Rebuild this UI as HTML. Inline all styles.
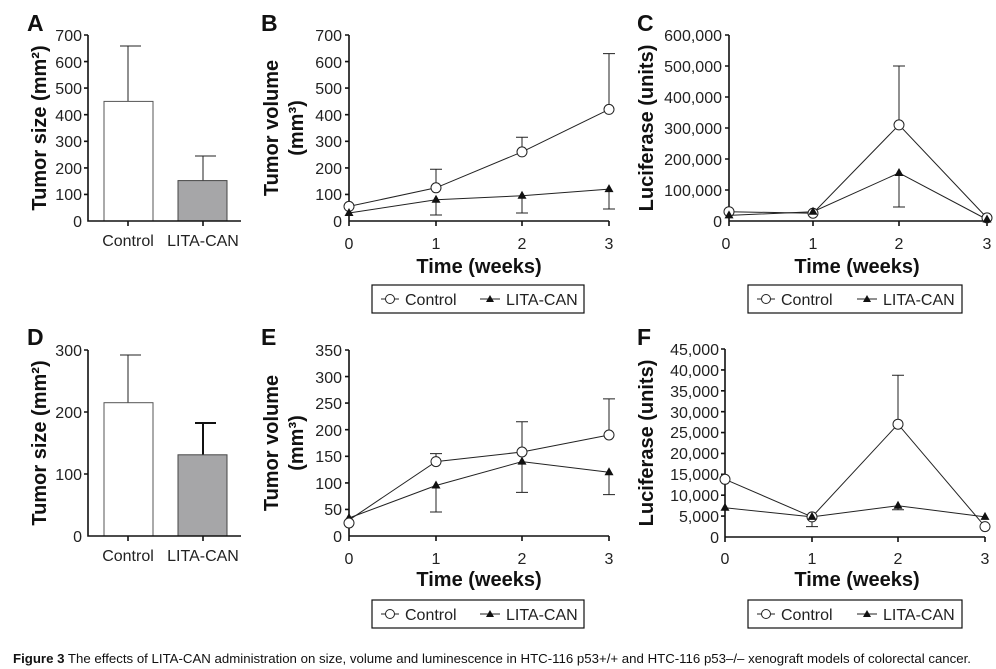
<!DOCTYPE html>
<html><head><meta charset="utf-8"><style>
body{margin:0;background:#fff}
svg{display:block;font-family:"Liberation Sans",Arial,sans-serif}
.t{font-size:16px;fill:#222}
.b{font-size:20px;font-weight:bold;fill:#111}
.L{font-size:23px;font-weight:bold;fill:#111}
.ax{stroke:#111;stroke-width:1.6;fill:none}
.ln{stroke:#222;stroke-width:1;fill:none}
.cap{font-size:12.6px;fill:#111;font-family:"Liberation Sans",sans-serif}
</style></head><body>
<svg width="996" height="669" viewBox="0 0 996 669">
<!-- Panel A -->
<text class="L" x="27" y="31">A</text>
<text class="b" transform="translate(46,128) rotate(-90)" text-anchor="middle">Tumor size (mm²)</text>
<g class="t" text-anchor="end">
<text x="82" y="227">0</text><text x="82" y="200">100</text><text x="82" y="174">200</text><text x="82" y="147">300</text><text x="82" y="121">400</text><text x="82" y="94">500</text><text x="82" y="68">600</text><text x="82" y="41">700</text></g>
<path class="ln" d="M128 101V46M120 46H141M203 181V156M195 156H216"/>
<rect x="104" y="101.4" width="49" height="119.6" fill="#fff" stroke="#555"/>
<rect x="178" y="180.6" width="49" height="40.4" fill="#a6a6a8" stroke="#444"/>
<path class="ax" d="M88 35V221H241M84 35H88M84 61.6H88M84 88.1H88M84 114.7H88M84 141.3H88M84 167.9H88M84 194.4H88M128 221V226M203 221V226"/>
<text class="t" x="128" y="246" text-anchor="middle">Control</text><text class="t" x="203" y="246" text-anchor="middle">LITA-CAN</text>

<!-- Panel B -->
<text class="L" x="261" y="31">B</text>
<text class="b" transform="translate(278,128) rotate(-90)" text-anchor="middle">Tumor volume</text>
<text class="b" transform="translate(303,128) rotate(-90)" text-anchor="middle">(mm³)</text>
<g class="t" text-anchor="end">
<text x="342" y="227">0</text><text x="342" y="200">100</text><text x="342" y="174">200</text><text x="342" y="147">300</text><text x="342" y="121">400</text><text x="342" y="94">500</text><text x="342" y="68">600</text><text x="342" y="41">700</text></g>
<path class="ax" d="M349 35V221H609M345 35H349M345 61.6H349M345 88.1H349M345 114.7H349M345 141.3H349M345 167.9H349M345 194.4H349M349 221V226M436 221V226M522 221V226M609 221V226"/>
<g class="t" text-anchor="middle"><text x="349" y="249">0</text><text x="436" y="249">1</text><text x="522" y="249">2</text><text x="609" y="249">3</text></g>
<text class="b" x="479" y="273" text-anchor="middle">Time (weeks)</text>
<path class="ln" d="M436 187.8V169.2M430 169.2H442M522 151.9V137.3M516 137.3H528M609 109.4V53.6M603 53.6H615M349 213V214.4M436 199.7V215M430 215H442M522 195.8V213M516 213H528M609 189.1V209M603 209H615"/>
<polyline class="ln" points="349,206.4 436,187.8 522,151.9 609,109.4"/>
<polyline class="ln" points="349,213 436,199.7 522,195.8 609,189.1"/>
<g fill="#fff" stroke="#222"><circle cx="349" cy="206.4" r="5"/><circle cx="436" cy="187.8" r="5"/><circle cx="522" cy="151.9" r="5"/><circle cx="609" cy="109.4" r="5"/></g>
<g fill="#111"><path d="M349 208l-4.5 8h9z"/><path d="M436 194.7l-4.5 8h9z"/><path d="M522 190.8l-4.5 8h9z"/><path d="M609 184.1l-4.5 8h9z"/></g>
<rect x="372" y="285" width="212" height="28" fill="none" stroke="#111" stroke-width="1.2"/>
<path class="ln" d="M381 299H399"/><circle cx="390" cy="299" r="4.5" fill="#fff" stroke="#222"/><text class="t" x="405" y="305">Control</text>
<path class="ln" d="M480 299H500"/><path d="M490 295l-4 7h8z" fill="#111"/><text class="t" x="506" y="305">LITA-CAN</text>

<!-- Panel C -->
<text class="L" x="637" y="31">C</text>
<text class="b" transform="translate(653,128) rotate(-90)" text-anchor="middle">Luciferase (units)</text>
<g class="t" text-anchor="end">
<text x="722" y="227">0</text><text x="722" y="196">100,000</text><text x="722" y="165">200,000</text><text x="722" y="134">300,000</text><text x="722" y="103">400,000</text><text x="722" y="72">500,000</text><text x="722" y="41">600,000</text></g>
<path class="ax" d="M729 35V221H987M725 35H729M725 66H729M725 97H729M725 128H729M725 159H729M725 190H729M729 221V226M813 221V226M899 221V226M987 221V226"/>
<g class="t" text-anchor="middle"><text x="726" y="249">0</text><text x="813" y="249">1</text><text x="899" y="249">2</text><text x="987" y="249">3</text></g>
<text class="b" x="857" y="273" text-anchor="middle">Time (weeks)</text>
<path class="ln" d="M899 124.9V66M893 66H905M899 172.95V207M893 207H905"/>
<polyline class="ln" points="729,211.7 813,213.25 899,124.9 987,217.9"/>
<polyline class="ln" points="729,215.4 813,211.7 899,172.95 987,219.5"/>
<g fill="#fff" stroke="#222"><circle cx="729" cy="211.7" r="5"/><circle cx="813" cy="213.25" r="5"/><circle cx="899" cy="124.9" r="5"/><circle cx="987" cy="217.9" r="5"/></g>
<g fill="#111"><path d="M729 210.4l-4.5 8h9z"/><path d="M813 206.7l-4.5 8h9z"/><path d="M899 168l-4.5 8h9z"/><path d="M987 214.5l-4.5 8h9z"/></g>
<rect x="748" y="285" width="214" height="28" fill="none" stroke="#111" stroke-width="1.2"/>
<path class="ln" d="M757 299H775"/><circle cx="766" cy="299" r="4.5" fill="#fff" stroke="#222"/><text class="t" x="781" y="305">Control</text>
<path class="ln" d="M857 299H877"/><path d="M867 295l-4 7h8z" fill="#111"/><text class="t" x="883" y="305">LITA-CAN</text>

<!-- Panel D -->
<text class="L" x="27" y="345">D</text>
<text class="b" transform="translate(46,443) rotate(-90)" text-anchor="middle">Tumor size (mm²)</text>
<g class="t" text-anchor="end">
<text x="82" y="542">0</text><text x="82" y="480">100</text><text x="82" y="418">200</text><text x="82" y="356">300</text></g>
<path class="ln" d="M128 403V355M120 355H141"/>
<path d="M203 455V423M195 423H216" stroke="#111" stroke-width="2" fill="none"/>
<rect x="104" y="402.7" width="49" height="133.3" fill="#fff" stroke="#555"/>
<rect x="178" y="454.8" width="49" height="81.2" fill="#a6a6a8" stroke="#444"/>
<path class="ax" d="M88 350V536H241M84 350H88M84 412H88M84 474H88M128 536V541M203 536V541"/>
<text class="t" x="128" y="561" text-anchor="middle">Control</text><text class="t" x="203" y="561" text-anchor="middle">LITA-CAN</text>

<!-- Panel E -->
<text class="L" x="261" y="345">E</text>
<text class="b" transform="translate(278,443) rotate(-90)" text-anchor="middle">Tumor volume</text>
<text class="b" transform="translate(303,443) rotate(-90)" text-anchor="middle">(mm³)</text>
<g class="t" text-anchor="end">
<text x="342" y="542">0</text><text x="342" y="515">50</text><text x="342" y="489">100</text><text x="342" y="462">150</text><text x="342" y="436">200</text><text x="342" y="409">250</text><text x="342" y="383">300</text><text x="342" y="356">350</text></g>
<path class="ax" d="M349 350V536H609M345 350H349M345 376.6H349M345 403.1H349M345 429.7H349M345 456.3H349M345 482.9H349M345 509.4H349M349 536V541M436 536V541M522 536V541M609 536V541"/>
<g class="t" text-anchor="middle"><text x="349" y="564">0</text><text x="436" y="564">1</text><text x="522" y="564">2</text><text x="609" y="564">3</text></g>
<text class="b" x="479" y="586" text-anchor="middle">Time (weeks)</text>
<path class="ln" d="M436 461.6V453.6M430 453.6H442M522 452V421.7M516 421.7H528M609 435V398.9M603 398.9H615M436 485.5V512M430 512H442M522 461.6V492.4M516 492.4H528M609 472.2V494.6M603 494.6H615"/>
<polyline class="ln" points="349,520.1 436,461.6 522,452 609,435"/>
<polyline class="ln" points="349,518 436,485.5 522,461.6 609,472.2"/>
<g fill="#111"><path d="M349 513l-4.5 8h9z"/><path d="M436 480.5l-4.5 8h9z"/><path d="M522 456.6l-4.5 8h9z"/><path d="M609 467.2l-4.5 8h9z"/></g>
<g fill="#fff" stroke="#222"><circle cx="349" cy="523" r="5"/><circle cx="436" cy="461.6" r="5"/><circle cx="522" cy="452" r="5"/><circle cx="609" cy="435" r="5"/></g>
<rect x="372" y="600" width="212" height="28" fill="none" stroke="#111" stroke-width="1.2"/>
<path class="ln" d="M381 614H399"/><circle cx="390" cy="614" r="4.5" fill="#fff" stroke="#222"/><text class="t" x="405" y="620">Control</text>
<path class="ln" d="M480 614H500"/><path d="M490 610l-4 7h8z" fill="#111"/><text class="t" x="506" y="620">LITA-CAN</text>

<!-- Panel F -->
<text class="L" x="637" y="345">F</text>
<text class="b" transform="translate(653,443) rotate(-90)" text-anchor="middle">Luciferase (units)</text>
<g class="t" text-anchor="end">
<text x="719" y="543">0</text><text x="719" y="522">5,000</text><text x="719" y="501">10,000</text><text x="719" y="480">15,000</text><text x="719" y="459">20,000</text><text x="719" y="438">25,000</text><text x="719" y="418">30,000</text><text x="719" y="397">35,000</text><text x="719" y="376">40,000</text><text x="719" y="355">45,000</text></g>
<path class="ax" d="M725 349V537H985M721 349H725M721 369.9H725M721 390.8H725M721 411.7H725M721 432.6H725M721 453.4H725M721 474.3H725M721 495.2H725M721 516.1H725M725 537V542M812 537V542M898 537V542M985 537V542"/>
<g class="t" text-anchor="middle"><text x="725" y="564">0</text><text x="812" y="564">1</text><text x="898" y="564">2</text><text x="985" y="564">3</text></g>
<text class="b" x="857" y="586" text-anchor="middle">Time (weeks)</text>
<path class="ln" d="M898 424.2V375.3M892 375.3H904M812 516.9V526.6M806 526.6H818M898 505.7V509.8M892 509.8H904"/>
<polyline class="ln" points="725,479.3 812,516.9 898,424.2 985,526.6"/>
<polyline class="ln" points="725,507.8 812,516.9 898,505.7 985,516.9"/>
<g fill="#fff" stroke="#222"><circle cx="725" cy="479.3" r="5"/><circle cx="812" cy="516.9" r="5"/><circle cx="898" cy="424.2" r="5"/><circle cx="985" cy="526.6" r="5"/></g>
<g fill="#111"><path d="M725 502.8l-4.5 8h9z"/><path d="M812 511.9l-4.5 8h9z"/><path d="M898 500.7l-4.5 8h9z"/><path d="M985 511.9l-4.5 8h9z"/></g>
<rect x="748" y="600" width="214" height="28" fill="none" stroke="#111" stroke-width="1.2"/>
<path class="ln" d="M757 614H775"/><circle cx="766" cy="614" r="4.5" fill="#fff" stroke="#222"/><text class="t" x="781" y="620">Control</text>
<path class="ln" d="M857 614H877"/><path d="M867 610l-4 7h8z" fill="#111"/><text class="t" x="883" y="620">LITA-CAN</text>

<text class="cap" x="13" y="663" textLength="958" lengthAdjust="spacingAndGlyphs"><tspan font-weight="bold">Figure 3</tspan> The effects of LITA-CAN administration on size, volume and luminescence in HTC-116 p53+/+ and HTC-116 p53–/– xenograft models of colorectal cancer.</text>
</svg>
</body></html>
